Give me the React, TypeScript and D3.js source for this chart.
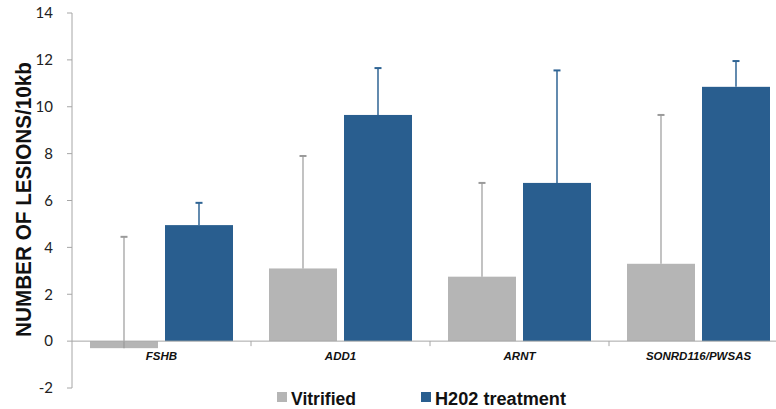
import React from "react";
import * as d3 from "d3";

const categories = ["FSHB", "ADD1", "ARNT", "SONRD116/PWSAS"];
const seriesNames = ["Vitrified", "H202 treatment"];
const vitrifiedValues = [-0.3, 3.1, 2.75, 3.3];
const vitrifiedErrTop = [4.45, 7.9, 6.75, 9.65];
const h2o2Values = [4.95, 9.65, 6.75, 10.85];
const h2o2ErrTop = [5.9, 11.65, 11.55, 11.95];
const yTicks = [-2, 0, 2, 4, 6, 8, 10, 12, 14];

const colors = ["#b5b5b5", "#295e8f"];
const errColors = ["#9a9a9a", "#2f6494"];

export default function App() {
  const W = 776, H = 409;
  const x0 = 72, x1 = 788;
  const y = d3.scaleLinear().domain([-2, 14]).range([388, 13]);
  const xCat = d3.scaleBand<string>().domain(categories).range([x0, x1]).padding(0);
  const xSer = d3
    .scaleBand<string>()
    .domain(seriesNames)
    .range([0, xCat.bandwidth()])
    .paddingInner(0.0933)
    .paddingOuter(0.24);

  const series = [
    { name: seriesNames[0], values: vitrifiedValues, err: vitrifiedErrTop },
    { name: seriesNames[1], values: h2o2Values, err: h2o2ErrTop },
  ];
  const axisColor = "#a6a6a6";
  const tickFont = "Lato, 'Open Sans', sans-serif";
  const sans = "'Liberation Sans', Arial, sans-serif";

  return (
    <svg width={W} height={H} style={{ position: "absolute", left: 0, top: 0, background: "#fff" }}>
      {series.map((s, si) =>
        categories.map((c, ci) => {
          const v = s.values[ci];
          const bx = (xCat(c) as number) + (xSer(s.name) as number);
          const bw = xSer.bandwidth();
          const yt = y(Math.max(0, v));
          const yb = y(Math.min(0, v));
          return (
            <rect key={`b-${si}-${ci}`} x={bx} y={yt} width={bw} height={yb - yt} fill={colors[si]} />
          );
        })
      )}
      {series.map((s, si) =>
        categories.map((c, ci) => {
          const cx = (xCat(c) as number) + (xSer(s.name) as number) + xSer.bandwidth() / 2;
          const v = s.values[ci];
          const e = s.err[ci];
          return (
            <g key={`e-${si}-${ci}`} stroke={errColors[si]} strokeWidth={si === 0 ? 1.2 : 1.5}>
              <line x1={cx} x2={cx} y1={y(v)} y2={y(e)} />
              <line x1={cx - 3.5} x2={cx + 3.5} y1={y(e)} y2={y(e)} strokeWidth={2} />
            </g>
          );
        })
      )}
      <line x1={x0} x2={x0} y1={y(-2)} y2={y(14)} stroke={axisColor} strokeWidth={1} />
      {yTicks.map((t) => (
        <g key={`yt-${t}`}>
          <line x1={x0 - 5} x2={x0} y1={y(t)} y2={y(t)} stroke={axisColor} />
          <text x={53} y={y(t)} dy="0.35em" textAnchor="end" fontFamily={tickFont} fontSize={15} fill="#222">
            {t}
          </text>
        </g>
      ))}
      <line x1={x0} x2={x1} y1={y(0)} y2={y(0)} stroke={axisColor} strokeWidth={1} />
      {categories.map((c, ci) => (
        <g key={`xc-${ci}`}>
          {ci > 0 && (
            <line x1={xCat(c) as number} x2={xCat(c) as number} y1={y(0)} y2={y(0) + 5} stroke={axisColor} />
          )}
          <text
            x={(xCat(c) as number) + xCat.bandwidth() / 2}
            y={360}
            textAnchor="middle"
            fontFamily={sans}
            fontWeight="bold"
            fontStyle="italic"
            fontSize={11.5}
            fill="#111"
          >
            {c}
          </text>
        </g>
      ))}
      <text
        transform={`translate(31,199.5) rotate(-90)`}
        textAnchor="middle"
        fontFamily={sans}
        fontWeight="bold"
        fontSize={21.5}
        textLength={275}
        lengthAdjust="spacingAndGlyphs"
        fill="#111"
      >
        NUMBER OF LESIONS/10kb
      </text>
      {[
        { x: 277, label: seriesNames[0], len: 65 },
        { x: 421, label: seriesNames[1], len: 131 },
      ].map((l, i) => (
        <g key={`lg-${i}`}>
          <rect x={l.x} y={392} width={10} height={10} fill={colors[i]} />
          <text
            x={l.x + 14}
            y={404.5}
            fontFamily={sans}
            fontWeight="bold"
            fontSize={17.5}
            textLength={l.len}
            lengthAdjust="spacingAndGlyphs"
            fill="#111"
          >
            {l.label}
          </text>
        </g>
      ))}
    </svg>
  );
}
